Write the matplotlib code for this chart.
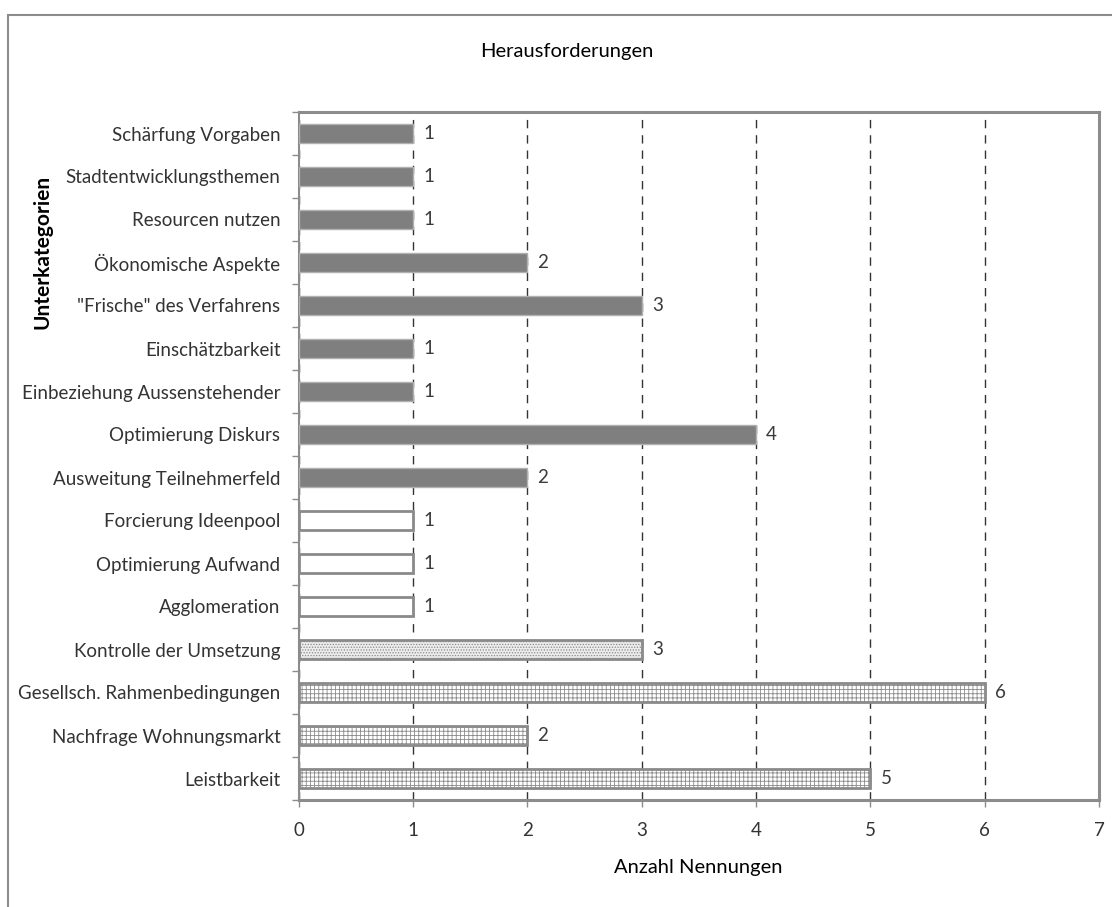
import matplotlib.pyplot as plt
from matplotlib.patches import Rectangle
from matplotlib.ticker import MultipleLocator

# Categories from bottom to top, with number of mentions
CATEGORIES = [
    'Leistbarkeit',
    'Nachfrage Wohnungsmarkt',
    'Gesellsch. Rahmenbedingungen',
    'Kontrolle der Umsetzung',
    'Agglomeration',
    'Optimierung Aufwand',
    'Forcierung Ideenpool',
    'Ausweitung Teilnehmerfeld',
    'Optimierung Diskurs',
    'Einbeziehung Aussenstehender',
    'Einschätzbarkeit',
    '"Frische" des Verfahrens',
    'Ökonomische Aspekte',
    'Resourcen nutzen',
    'Stadtentwicklungsthemen',
    'Schärfung Vorgaben',
]
COUNTS = [5, 2, 6, 3, 1, 1, 1, 2, 4, 1, 1, 3, 2, 1, 1, 1]
# Group index per category: 0 = grid, 1 = dotted, 2 = empty, 3 = solid
GROUPS = [0, 0, 0, 1, 2, 2, 2, 3, 3, 3, 3, 3, 3, 3, 3, 3]

GROUP_STYLE = {
    0: dict(facecolor='white', edgecolor='#8a8a8a', hatch='++++', linewidth=2),
    1: dict(facecolor='#ececec', edgecolor='#8a8a8a', hatch='......', linewidth=2),
    2: dict(facecolor='white', edgecolor='#8a8a8a', hatch=None, linewidth=2),
    3: dict(facecolor='#7f7f7f', edgecolor='#b0b0b0', hatch=None, linewidth=1),
}

FONT = ['Lato', 'DejaVu Sans']
plt.rcParams['font.family'] = FONT
plt.rcParams['hatch.linewidth'] = 0.6

W, H = 1112, 907
LABEL_SIZE = 13.5


def main():
    fig = plt.figure(figsize=(W / 100, H / 100), dpi=100)
    ax = fig.add_axes([298.5 / W, 1 - 800 / H, (1099 - 298.5) / W, (800 - 112) / H])

    # outer frame of the chart area
    fig.add_artist(Rectangle((8 / W, -0.01), 1.1, 1 - 15 / H + 0.01,
                             transform=fig.transFigure, fill=False,
                             edgecolor='#8c8c8c', linewidth=1.5))

    ypos = list(range(len(CATEGORIES)))
    for y, val, grp in zip(ypos, COUNTS, GROUPS):
        style = GROUP_STYLE[grp]
        ax.barh(y, val, height=0.46, zorder=3, **style)
        ax.text(val + 0.09, y, str(val), va='center', ha='left',
                fontsize=LABEL_SIZE, color='#3a3a3a', zorder=4)

    ax.set_xlim(0, 7)
    ax.set_ylim(-0.5, len(CATEGORIES) - 0.5)
    ax.xaxis.set_major_locator(MultipleLocator(1))
    ax.set_yticks(ypos)
    ax.set_yticklabels(CATEGORIES, fontsize=LABEL_SIZE, color='#333333')
    ax.set_yticks([y - 0.5 for y in ypos] + [len(CATEGORIES) - 0.5], minor=True)
    ax.tick_params(axis='y', which='major', length=0, pad=13)
    ax.tick_params(axis='y', which='minor', length=5, color='#8c8c8c', width=1)
    ax.tick_params(axis='x', length=5, color='#8c8c8c', width=1, pad=11,
                   labelsize=LABEL_SIZE, labelcolor='#333333')

    ax.grid(axis='x', linestyle=(0, (6, 5)), color='#333333', linewidth=1, zorder=1)

    for side in ['top', 'right', 'bottom']:
        ax.spines[side].set_color('#8c8c8c')
        ax.spines[side].set_linewidth(2.2)
    ax.spines['left'].set_color('#8c8c8c')
    ax.spines['left'].set_linewidth(1.5)

    fig.text(567 / W, 1 - 52 / H, 'Herausforderungen', ha='center', va='center',
             fontsize=14.5, color='black')
    fig.text(698 / W, 1 - 868 / H, 'Anzahl Nennungen', ha='center', va='center',
             fontsize=14.5, color='black')
    fig.text(43 / W, 1 - 252 / H, 'Unterkategorien', ha='center', va='center',
             rotation=90, fontsize=15, fontweight='bold', color='black')

    fig.savefig('out.png', dpi=100, facecolor='white')


if __name__ == "__main__":
    main()
